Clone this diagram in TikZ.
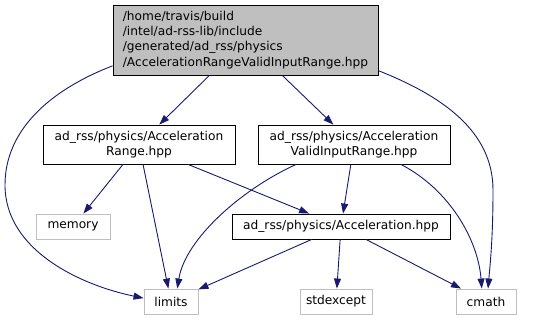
\documentclass[tikz,border=0pt]{standalone}
\usepackage{fontspec}
\setmainfont{DejaVu Sans}
\usepackage{xcolor}
\usetikzlibrary{arrows.meta}

\definecolor{edgeblue}{HTML}{191970}
\definecolor{boxgray}{HTML}{BFBFBF}

\begin{document}
\begin{tikzpicture}[x=1pt,y=-1pt,
    font=\fontsize{12.2}{15.2}\selectfont,
    file/.style={rectangle,draw=black,line width=0.9pt,inner sep=0pt,align=center},
    sysfile/.style={rectangle,draw=boxgray,line width=0.9pt,inner sep=0pt,minimum height=25},
    dep/.style={draw=edgeblue,line width=0.9pt,-{Triangle[length=10pt,width=7pt]}}]
    \useasboundingbox (0,0) rectangle (541,320);

    % Header files
    \node[file,fill=boxgray,align=left,minimum width=265,minimum height=70] (top) at (245.5,40)
        {/home/travis/build\\/intel/ad-rss-lib/include\\/generated/ad\_rss/physics\\/AccelerationRangeValidInputRange.hpp};
    \node[file,minimum width=192,minimum height=39] (accr) at (139,144.5)
        {ad\_rss/physics/Acceleration\\Range.hpp};
    \node[file,minimum width=192,minimum height=39] (valid) at (354,144.5)
        {ad\_rss/physics/Acceleration\\ValidInputRange.hpp};
    \node[file,minimum width=218,minimum height=25] (accel) at (341,226.5)
        {ad\_rss/physics/Acceleration.hpp};

    % System headers
    \node[sysfile,minimum width=74] (memory) at (73,226.5) {memory};
    \node[sysfile,minimum width=54] (limits) at (171,301.5) {limits};
    \node[sysfile,minimum width=72] (stdexcept) at (336,301.5) {stdexcept};
    \node[sysfile,minimum width=60] (cmath) at (486,301.5) {cmath};

    % Straight includes
    \foreach \a/\b in {top/accr, top/valid, accr/memory, accr/limits, accr/accel,
                       valid/accel, accel/limits, accel/stdexcept, accel/cmath}
        \draw[dep] (\a) -- (\b);

    % Curved includes
    \draw[dep] (top.191) .. controls (50,90) and (5,130) .. (5,185)
        .. controls (5,250) and (80,285) .. (limits.173);
    \draw[dep] (top.347) .. controls (440,95) and (493,130) .. (493,190)
        .. controls (493,240) and (490,265) .. (cmath.81);
    \draw[dep] (valid.199) .. controls (240,190) and (185,240) .. (limits.64);
    \draw[dep] (valid.337) .. controls (450,190) and (478,240) .. (cmath.108);
\end{tikzpicture}
\end{document}
